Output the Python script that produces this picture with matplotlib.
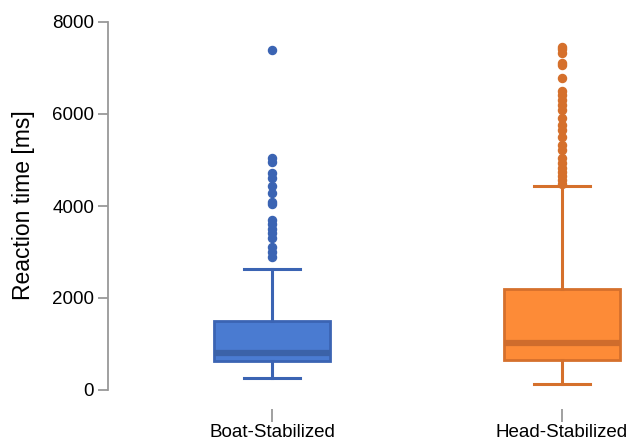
import matplotlib
matplotlib.use("Agg")
import matplotlib.pyplot as plt

plt.rcParams['font.family'] = ['Liberation Sans', 'DejaVu Sans']

categories = ["Boat-Stabilized", "Head-Stabilized"]
q1 = [630, 650]
median = [800, 1020]
q3 = [1500, 2200]
whisker_low = [260, 130]
whisker_high = [2630, 4430]
outliers_boat = [7390, 5040, 4960, 4720, 4600, 4430, 4280, 4090, 4040,
                 3700, 3610, 3500, 3410, 3300, 3110, 3000, 2890]
outliers_head = [7460, 7410, 7330, 7110, 7070, 6780, 6500, 6410, 6300, 6200,
                 6090, 5910, 5760, 5650, 5500, 5330, 5220, 5040, 4930, 4830,
                 4740, 4650, 4570, 4480]
yticks = [0, 2000, 4000, 6000, 8000]

fills = ["#4a7bd1", "#fd8b37"]
edges = ["#3b64b3", "#d5702c"]
meds = ["#3b62a8", "#cf6c2c"]

W, H = 630, 442
fig = plt.figure(figsize=(W / 100, H / 100), dpi=100)
left, right, bottom, top = 108, 630, 395, 15
ax = fig.add_axes([left / W, 1 - bottom / H, (right - left) / W, (bottom - top) / H])

for s in ["top", "right", "bottom"]:
    ax.spines[s].set_visible(False)
ax.spines["bottom"].set_position(("outward", 10))

ppu = 8000 / (390 - 22)
ax.set_ylim(-(bottom - 390) * ppu, 8000 + (22 - top) * ppu)
ax.set_xlim(-164 / 290, (right - 272) / 290)

outs = [outliers_boat, outliers_head]
for i in range(2):
    stats = [dict(med=median[i], q1=q1[i], q3=q3[i], whislo=whisker_low[i],
                  whishi=whisker_high[i], fliers=outs[i], label=categories[i])]
    ax.bxp(stats, positions=[i], widths=0.40, patch_artist=True,
           boxprops=dict(facecolor=fills[i], edgecolor=edges[i], linewidth=2),
           medianprops=dict(color=meds[i], linewidth=4.5, solid_capstyle='butt'),
           whiskerprops=dict(color=edges[i], linewidth=2.2),
           capprops=dict(color=edges[i], linewidth=2.2),
           capwidths=0.19,
           flierprops=dict(marker='o', markerfacecolor=edges[i], markeredgecolor=edges[i],
                           markersize=5.8, linestyle='none'),
           manage_ticks=False)

ax.set_xticks([0, 1])
ax.set_xticklabels(categories, fontsize=13.5)
ax.set_yticks(yticks)
ax.set_yticklabels([str(v) for v in yticks], fontsize=13.5)
ax.set_ylabel("Reaction time [ms]", fontsize=16.5, labelpad=12)

ax.spines["left"].set_bounds(0, 8000)
ax.spines["left"].set_color("#999999")
ax.spines["left"].set_linewidth(1.3)
ax.tick_params(axis='y', length=7, width=1.3, color="#999999", pad=3)
ax.tick_params(axis='x', length=9, width=1.3, color="#999999", pad=2)

fig.savefig("out.png", dpi=100)
